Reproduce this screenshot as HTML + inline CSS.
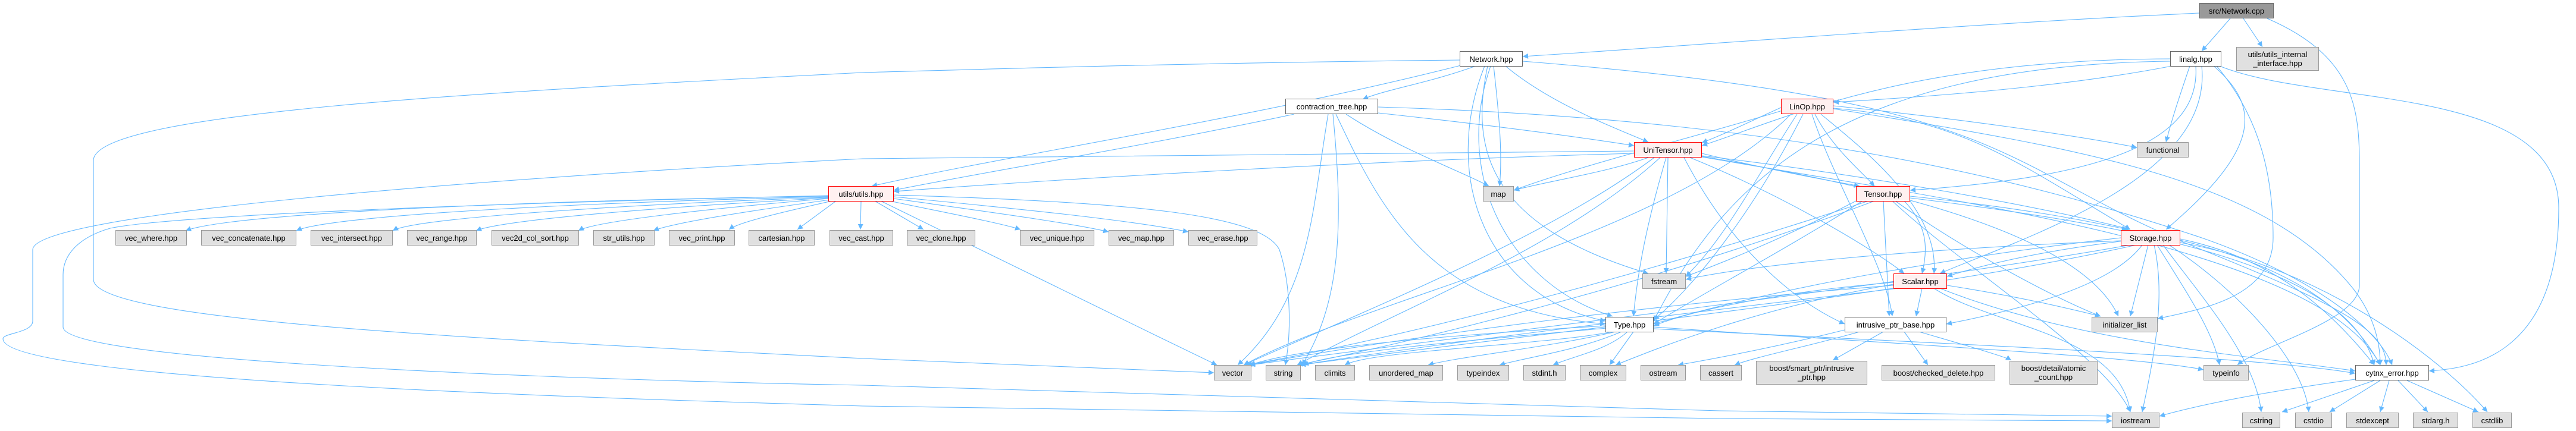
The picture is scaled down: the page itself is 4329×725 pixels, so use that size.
<!DOCTYPE html>
<html><head><meta charset="utf-8"><style>
html,body{margin:0;padding:0;background:#fff;width:4329px;height:725px;overflow:hidden;position:relative}
.n{position:absolute;box-sizing:border-box;display:flex;align-items:center;justify-content:center;text-align:center;font-family:"Liberation Sans",sans-serif;font-size:13px;color:#000;line-height:15px;white-space:nowrap}
.g{background:#e0e0e0;border:1px solid #999}
.w{background:#fff;border:1.5px solid #666}
.r{background:#fff0f0;border:1.5px solid #f00}
.k{background:#999;border:1.5px solid #666}
svg{position:absolute;left:0;top:0}
path{fill:none;stroke:#63b8ff;stroke-width:1.1}
</style></head><body>
<svg width="4329" height="725" viewBox="0 0 4329 725">
<defs><marker id="a" viewBox="0 0 10 10" refX="10" refY="5" markerWidth="10" markerHeight="9" markerUnits="userSpaceOnUse" orient="auto"><path d="M0,0 L10,5 L0,10 z" style="fill:#63b8ff;stroke:none"/></marker></defs>
<g marker-end="url(#a)">
<path d="M3696,22 C3300,40 2800,80 2559,95"/>
<path d="M3748,31 L3700,86"/>
<path d="M3770,31 L3802,79"/>
<path d="M3810,31 C3970,100 3965,200 3965,300 L3965,480 C3965,540 3800,580 3760,614"/>
<path d="M2480,111 C2400,140 2330,150 2290,167"/>
<path d="M2455,110 C2100,200 1700,260 1465,313"/>
<path d="M2530,111 C2600,170 2700,210 2770,239"/>
<path d="M2510,111 C2520,200 2525,260 2520,313"/>
<path d="M2500,111 C2470,250 2500,380 2770,460"/>
<path d="M2495,111 C2420,300 2500,500 2698,540"/>
<path d="M2505,111 C2440,300 2540,480 2710,532"/>
<path d="M2453,101 C2000,106 1700,115 1450,122 C800,155 157,190 157,270 L157,470 C157,540 800,570 1450,603 L2040,627"/>
<path d="M2559,103 C3400,170 3350,280 3700,420 C3950,520 4010,560 4010,614"/>
<path d="M2175,192 C1900,250 1650,290 1502,320"/>
<path d="M2316,190 C2500,210 2650,230 2746,245"/>
<path d="M2262,192 C2350,250 2460,290 2502,313"/>
<path d="M2245,192 C2320,350 2400,520 2698,545"/>
<path d="M2232,192 C2205,350 2205,500 2080,614"/>
<path d="M2240,192 C2255,350 2260,500 2188,614"/>
<path d="M2316,180 C3000,200 3400,300 3700,400 C3900,470 4000,560 4020,614"/>
<path d="M3650,111 C3450,150 3200,165 3081,172"/>
<path d="M3647,99 C3200,100 3000,200 2860,245"/>
<path d="M3690,111 C3700,250 3500,300 3210,320"/>
<path d="M3720,111 C3800,180 3800,250 3640,386"/>
<path d="M3700,111 C3720,300 3400,400 3260,460"/>
<path d="M3680,111 C3660,170 3650,200 3640,239"/>
<path d="M3730,111 C3900,180 4300,140 4300,350 C4300,600 4150,620 4082,624"/>
<path d="M3725,111 C3800,200 3820,300 3820,400 C3820,500 3700,520 3626,536"/>
<path d="M3647,103 C3100,110 2900,300 2779,540"/>
<path d="M2995,180 C2950,200 2900,225 2860,240"/>
<path d="M3050,192 C3080,250 3130,290 3150,313"/>
<path d="M3060,192 C3130,250 3260,350 3250,460"/>
<path d="M3045,192 C3080,300 3170,450 3180,532"/>
<path d="M3081,178 C3300,200 3500,230 3591,248"/>
<path d="M3081,182 C3300,200 3400,280 3580,386"/>
<path d="M3081,183 C3500,250 3800,300 3950,480 C4000,540 4000,600 4000,614"/>
<path d="M3020,192 C2950,300 2900,400 2833,465"/>
<path d="M3030,192 C2950,350 2850,480 2779,538"/>
<path d="M3010,192 C2800,400 2300,500 2090,614"/>
<path d="M2995,186 C2850,230 2650,280 2544,320"/>
<path d="M2746,258 C2300,270 1800,300 1502,322"/>
<path d="M2746,254 C2200,258 1800,262 1450,267 C800,300 55,360 55,420 L55,540 C55,560 5,560 5,570 C5,640 1000,670 1450,683 L2890,704 L3549,708"/>
<path d="M2770,265 C2700,290 2600,305 2544,320"/>
<path d="M2860,258 C2950,280 3050,300 3125,313"/>
<path d="M2860,262 C3100,290 3400,340 3580,386"/>
<path d="M2840,265 C3000,330 3150,420 3200,460"/>
<path d="M2830,265 C2900,400 3000,500 3100,545"/>
<path d="M2800,265 C2760,400 2750,480 2745,532"/>
<path d="M2803,265 L2800,460"/>
<path d="M2780,265 C2600,400 2300,520 2090,614"/>
<path d="M2790,265 C2620,420 2350,520 2180,614"/>
<path d="M2860,264 C3300,340 3900,420 4000,614"/>
<path d="M2860,263 C3200,320 3500,400 3560,532"/>
<path d="M1392,330 C1000,335 400,355 312,388"/>
<path d="M1392,331 C1050,338 560,360 498,388"/>
<path d="M1392,332 C1100,342 700,365 660,388"/>
<path d="M1392,333 C1150,346 850,368 800,388"/>
<path d="M1392,334 C1200,350 1000,372 972,388"/>
<path d="M1395,336 C1250,356 1130,375 1098,388"/>
<path d="M1398,338 C1300,360 1240,375 1225,386"/>
<path d="M1405,338 L1340,386"/>
<path d="M1447,338 L1446,386"/>
<path d="M1470,338 L1552,386"/>
<path d="M1495,338 C1600,360 1680,375 1715,386"/>
<path d="M1502,334 C1650,355 1800,375 1863,390"/>
<path d="M1502,331 C1700,350 1900,370 1997,390"/>
<path d="M1480,338 C1650,420 1850,520 2045,614"/>
<path d="M1502,328 C1900,340 2120,360 2150,420 C2170,480 2170,560 2160,614"/>
<path d="M1392,329 C900,340 300,360 185,384 C130,400 106,430 106,462 L106,550 C106,610 1000,640 1450,648 L2890,691 L3549,700"/>
<path d="M3210,330 C3400,350 3500,370 3575,386"/>
<path d="M3200,338 C3240,380 3240,420 3230,460"/>
<path d="M3165,338 L3175,532"/>
<path d="M3130,338 C3000,420 2850,500 2779,545"/>
<path d="M3125,335 C3000,400 2900,440 2833,465"/>
<path d="M3140,338 C2800,450 2400,560 2095,614"/>
<path d="M3150,338 C2800,470 2400,570 2180,614"/>
<path d="M3180,338 C3300,450 3540,600 3580,693"/>
<path d="M3210,333 C3600,380 3950,450 3990,614"/>
<path d="M3185,338 C3300,420 3450,500 3530,532"/>
<path d="M3570,405 C3450,420 3350,440 3272,465"/>
<path d="M3600,412 C3550,480 3400,520 3271,545"/>
<path d="M3564,400 C3300,430 3000,480 2779,545"/>
<path d="M3564,405 C3200,420 2950,445 2833,470"/>
<path d="M3580,412 C3200,480 2500,560 2100,614"/>
<path d="M3590,412 C3200,500 2500,570 2185,614"/>
<path d="M3620,412 C3640,500 3620,600 3600,693"/>
<path d="M3664,402 C3800,430 3900,500 3990,614"/>
<path d="M3664,404 C3850,450 3950,520 4000,614"/>
<path d="M3610,412 L3580,532"/>
<path d="M3625,412 C3680,500 3720,560 3730,614"/>
<path d="M3635,412 C3700,500 3790,600 3800,693"/>
<path d="M3645,412 C3750,480 3870,600 3880,693"/>
<path d="M3664,408 C3900,450 4100,600 4180,693"/>
<path d="M3182,475 C3000,490 2850,520 2779,548"/>
<path d="M3230,485 L3220,532"/>
<path d="M3182,480 C2800,510 2400,560 2100,614"/>
<path d="M3190,485 C2800,530 2400,580 2185,614"/>
<path d="M3250,485 C3350,550 3560,560 3580,693"/>
<path d="M3260,485 C3500,580 3800,600 3958,624"/>
<path d="M3272,480 C3400,500 3480,520 3530,532"/>
<path d="M3182,478 C2950,520 2800,580 2715,614"/>
<path d="M2698,548 C2500,560 2200,580 2100,614"/>
<path d="M2700,552 C2500,570 2250,590 2190,614"/>
<path d="M2710,558 C2600,580 2300,590 2260,614"/>
<path d="M2715,558 C2600,585 2450,600 2400,614"/>
<path d="M2725,558 C2650,590 2570,600 2520,614"/>
<path d="M2735,558 C2700,590 2640,600 2610,614"/>
<path d="M2745,558 L2705,614"/>
<path d="M2779,550 C3200,580 3600,600 3703,622"/>
<path d="M2779,553 C3300,580 3800,600 3958,628"/>
<path d="M3125,558 C3050,580 2950,600 2915,614"/>
<path d="M3165,558 L3080,606"/>
<path d="M3200,558 L3240,614"/>
<path d="M3225,558 C3300,580 3370,600 3380,606"/>
<path d="M3100,555 C3000,580 2900,600 2820,614"/>
<path d="M3958,638 C3800,660 3700,680 3629,700"/>
<path d="M3990,640 L3835,693"/>
<path d="M4000,640 L3915,693"/>
<path d="M4015,640 L4000,693"/>
<path d="M4030,640 L4080,693"/>
<path d="M4045,640 L4165,693"/>
</g></svg>

<div class="n k" style="left:3696px;top:5px;width:125px;height:26px">src/Network.cpp</div>
<div class="n w" style="left:2453px;top:86px;width:106px;height:26px">Network.hpp</div>
<div class="n w" style="left:3647px;top:86px;width:86px;height:26px">linalg.hpp</div>
<div class="n g" style="left:3758px;top:79px;width:139px;height:40px">utils/utils_internal<br>_interface.hpp</div>
<div class="n w" style="left:2160px;top:166px;width:156px;height:26px">contraction_tree.hpp</div>
<div class="n r" style="left:2993px;top:166px;width:88px;height:26px">LinOp.hpp</div>
<div class="n r" style="left:2746px;top:239px;width:114px;height:26px">UniTensor.hpp</div>
<div class="n g" style="left:3591px;top:239px;width:87px;height:26px">functional</div>
<div class="n r" style="left:1392px;top:313px;width:110px;height:26px">utils/utils.hpp</div>
<div class="n g" style="left:2492px;top:313px;width:52px;height:26px">map</div>
<div class="n r" style="left:3119px;top:313px;width:91px;height:26px">Tensor.hpp</div>
<div class="n g" style="left:194px;top:387px;width:120px;height:26px">vec_where.hpp</div>
<div class="n g" style="left:338px;top:387px;width:160px;height:26px">vec_concatenate.hpp</div>
<div class="n g" style="left:522px;top:387px;width:138px;height:26px">vec_intersect.hpp</div>
<div class="n g" style="left:684px;top:387px;width:117px;height:26px">vec_range.hpp</div>
<div class="n g" style="left:826px;top:387px;width:147px;height:26px">vec2d_col_sort.hpp</div>
<div class="n g" style="left:997px;top:387px;width:103px;height:26px">str_utils.hpp</div>
<div class="n g" style="left:1124px;top:387px;width:111px;height:26px">vec_print.hpp</div>
<div class="n g" style="left:1258px;top:387px;width:111px;height:26px">cartesian.hpp</div>
<div class="n g" style="left:1394px;top:387px;width:107px;height:26px">vec_cast.hpp</div>
<div class="n g" style="left:1524px;top:387px;width:115px;height:26px">vec_clone.hpp</div>
<div class="n g" style="left:1714px;top:387px;width:125px;height:26px">vec_unique.hpp</div>
<div class="n g" style="left:1863px;top:387px;width:110px;height:26px">vec_map.hpp</div>
<div class="n g" style="left:1997px;top:387px;width:116px;height:26px">vec_erase.hpp</div>
<div class="n r" style="left:3564px;top:387px;width:100px;height:26px">Storage.hpp</div>
<div class="n g" style="left:2760px;top:460px;width:73px;height:26px">fstream</div>
<div class="n r" style="left:3182px;top:460px;width:90px;height:26px">Scalar.hpp</div>
<div class="n w" style="left:2698px;top:533px;width:81px;height:26px">Type.hpp</div>
<div class="n w" style="left:3100px;top:533px;width:171px;height:26px">intrusive_ptr_base.hpp</div>
<div class="n g" style="left:3515px;top:533px;width:111px;height:26px">initializer_list</div>
<div class="n g" style="left:2040px;top:614px;width:63px;height:26px">vector</div>
<div class="n g" style="left:2127px;top:614px;width:59px;height:26px">string</div>
<div class="n g" style="left:2210px;top:614px;width:67px;height:26px">climits</div>
<div class="n g" style="left:2301px;top:614px;width:124px;height:26px">unordered_map</div>
<div class="n g" style="left:2449px;top:614px;width:87px;height:26px">typeindex</div>
<div class="n g" style="left:2560px;top:614px;width:71px;height:26px">stdint.h</div>
<div class="n g" style="left:2655px;top:614px;width:78px;height:26px">complex</div>
<div class="n g" style="left:2757px;top:614px;width:76px;height:26px">ostream</div>
<div class="n g" style="left:2857px;top:614px;width:70px;height:26px">cassert</div>
<div class="n g" style="left:2951px;top:607px;width:187px;height:40px">boost/smart_ptr/intrusive<br>_ptr.hpp</div>
<div class="n g" style="left:3162px;top:614px;width:191px;height:26px">boost/checked_delete.hpp</div>
<div class="n g" style="left:3377px;top:607px;width:148px;height:40px">boost/detail/atomic<br>_count.hpp</div>
<div class="n g" style="left:3703px;top:614px;width:76px;height:26px">typeinfo</div>
<div class="n w" style="left:3958px;top:614px;width:124px;height:26px">cytnx_error.hpp</div>
<div class="n g" style="left:3549px;top:694px;width:80px;height:26px">iostream</div>
<div class="n g" style="left:3768px;top:694px;width:64px;height:26px">cstring</div>
<div class="n g" style="left:3857px;top:694px;width:62px;height:26px">cstdio</div>
<div class="n g" style="left:3943px;top:694px;width:88px;height:26px">stdexcept</div>
<div class="n g" style="left:4055px;top:694px;width:76px;height:26px">stdarg.h</div>
<div class="n g" style="left:4155px;top:694px;width:66px;height:26px">cstdlib</div>
</body></html>
